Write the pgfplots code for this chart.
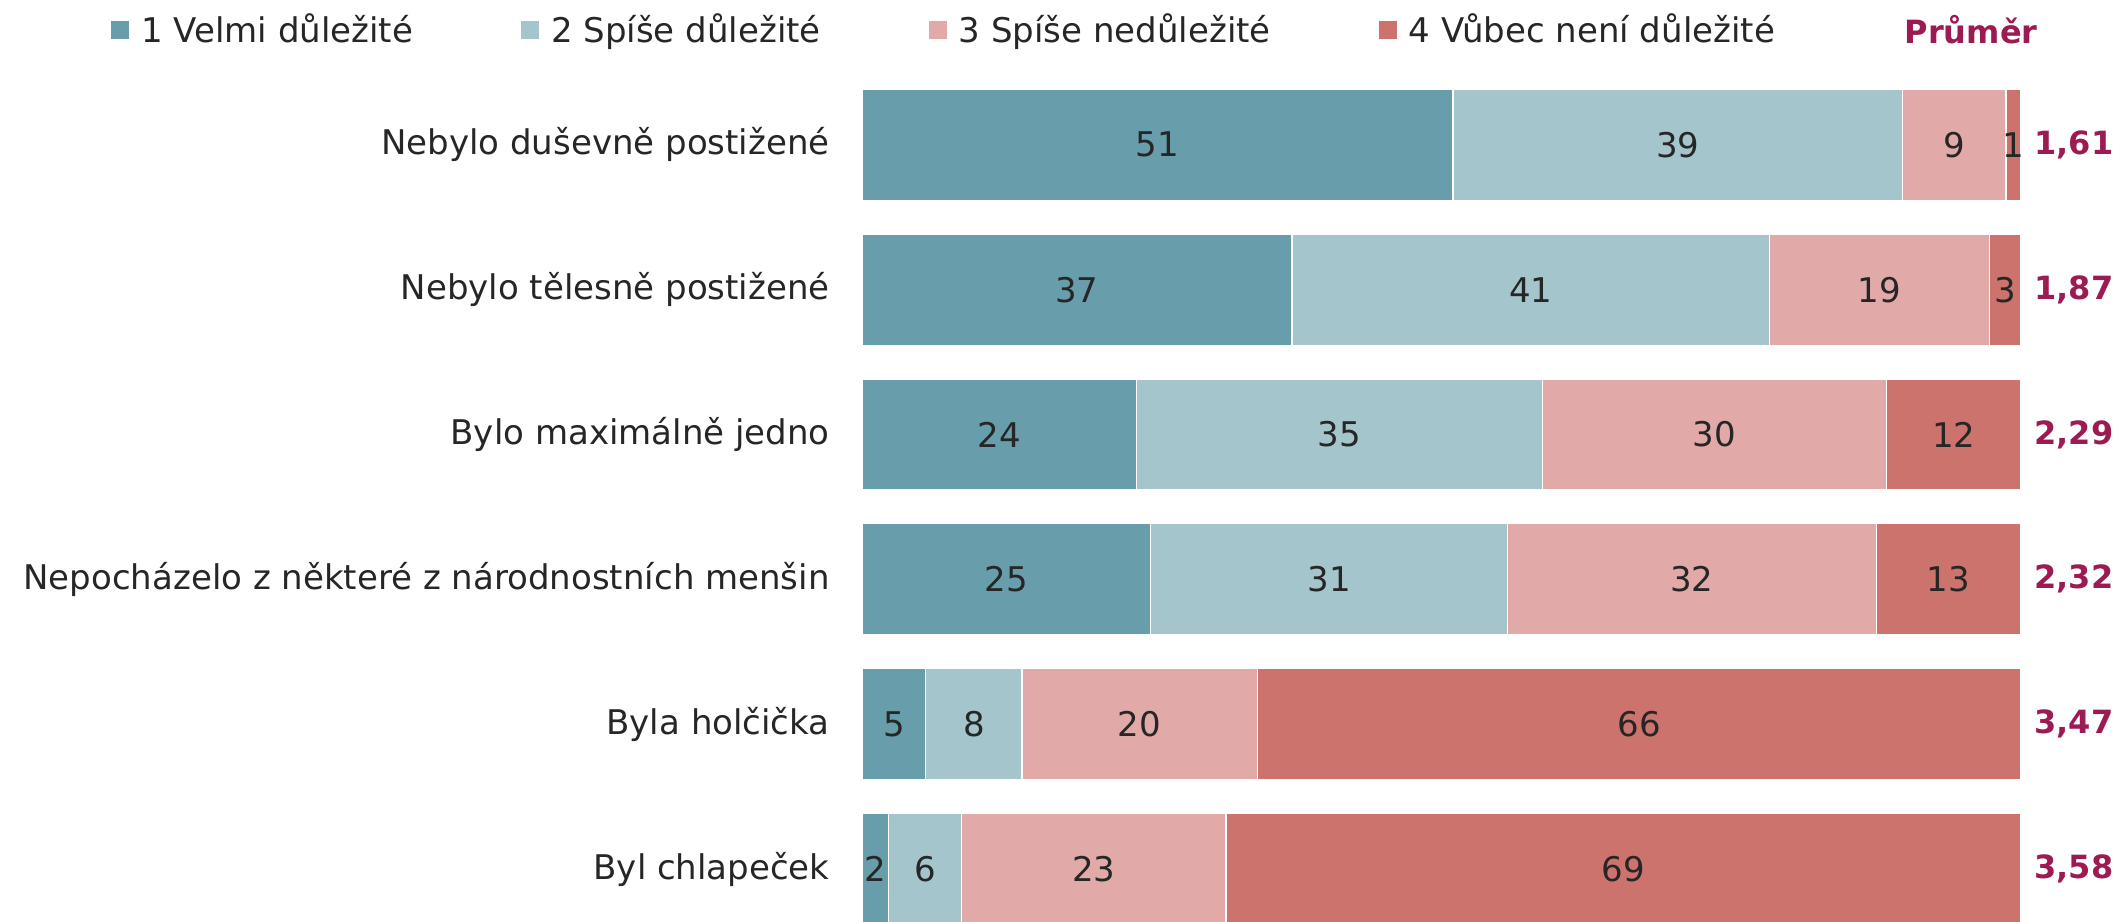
\documentclass[border=0pt]{standalone}
\usepackage{fontspec}
\setmainfont{DejaVu Sans}
\usepackage{pgfplots}
\usepackage{pgfplotstable}
\pgfplotsset{compat=1.18}
\definecolor{cA}{HTML}{689EAC}
\definecolor{cB}{HTML}{A5C5CC}
\definecolor{cC}{HTML}{E1AAA9}
\definecolor{cD}{HTML}{CC736E}
\definecolor{mag}{HTML}{9B1B52}
\definecolor{txt}{HTML}{262626}
\newcommand{\fs}{\fontsize{17}{20}\selectfont}
\newcommand{\fb}{\fontsize{16}{19}\selectfont\bfseries}

\pgfplotstableread{
y v lab
0 51.0 51
1 37.1 37
2 23.7 24
3 24.9 25
4 5.5 5
5 2.3 2
}\tA
\pgfplotstableread{
y v lab
0 38.8 39
1 41.2 41
2 35.0 35
3 30.8 31
4 8.3 8
5 6.3 6
}\tB
\pgfplotstableread{
y v lab
0 8.9 9
1 19.0 19
2 29.7 30
3 31.8 32
4 20.3 20
5 22.8 23
}\tC
\pgfplotstableread{
y v lab
0 1.3 1
1 2.7 3
2 11.6 12
3 12.5 13
4 65.9 66
5 68.6 69
}\tD
\pgfplotstableread{
y v lab
0 100 1,61
1 100 1,87
2 100 2,29
3 100 2,32
4 100 3,47
5 100 3,58
}\tM

\begin{document}
\begin{tikzpicture}
\begin{axis}[name=main,
  scale only axis, width=579.5pt, height=434.5pt,
  xbar stacked, bar width=55.5pt,
  xmin=0, xmax=100, ymin=-0.5, ymax=5.5, y dir=reverse,
  enlargelimits=false, clip=false,
  axis line style={draw=none}, xtick=\empty,
  ytick={0,1,2,3,4,5},
  yticklabels={Nebylo duševně postižené, Nebylo tělesně postižené, Bylo maximálně jedno, Nepocházelo z některé z národnostních menšin, Byla holčička, Byl chlapeček},
  major tick length=0pt,
  yticklabel style={font=\fs, text=txt, inner sep=0pt, xshift=-16pt},
  legend columns=4,
  legend style={at={(-0.648,1.0488)}, anchor=west, draw=none, fill=none, inner sep=0pt,
    font=\fs, text=txt,
    /tikz/every odd column/.append style={column sep=4pt},
    /tikz/every even column/.append style={column sep=52pt}},
  legend cell align=left,
  legend image code/.code={\fill[#1, draw=none] (0pt,-4.5pt) rectangle (9pt,4.5pt);},
  bstyle/.style={fill=#1, draw=white, line width=0.6pt, nodes near coords,
    point meta=explicit symbolic,
    every node near coord/.append style={anchor=center, font=\fs, text=txt}},
]
\addplot[bstyle=cA] table[x=v, y=y, meta=lab] {\tA};
\addlegendentry{1 Velmi důležité}
\addplot[bstyle=cB] table[x=v, y=y, meta=lab] {\tB};
\addlegendentry{2 Spíše důležité}
\addplot[bstyle=cC] table[x=v, y=y, meta=lab] {\tC};
\addlegendentry{3 Spíše nedůležité}
\addplot[bstyle=cD] table[x=v, y=y, meta=lab] {\tD};
\addlegendentry{4 Vůbec není důležité}
\end{axis}
\begin{axis}[at={(main.south west)}, anchor=south west,
  scale only axis, width=579.5pt, height=434.5pt,
  xmin=0, xmax=100, ymin=-0.5, ymax=5.5, y dir=reverse,
  enlargelimits=false, clip=false, hide axis]
\addplot[only marks, mark=none, nodes near coords, point meta=explicit symbolic,
  every node near coord/.append style={anchor=west, xshift=6.5pt, font=\fb, text=mag, inner sep=0pt}]
  table[x=v, y=y, meta=lab] {\tM};
\end{axis}
\node[anchor=east, font=\fb, text=mag, inner sep=0pt] at ([xshift=8.5pt, yshift=21.2pt]main.north east) {Průměr};
\pgfresetboundingbox
\useasboundingbox ([xshift=-431pt, yshift=10pt]main.south west) rectangle ([xshift=50.5pt, yshift=36.2pt]main.north east);
\end{tikzpicture}
\end{document}
